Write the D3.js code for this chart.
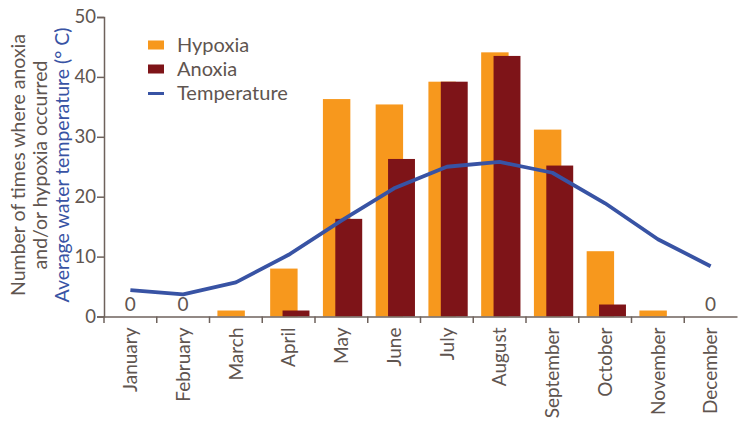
<!DOCTYPE html>
<html><head><meta charset="utf-8">
<script src="https://cdn.jsdelivr.net/npm/d3@7"></script>
<style>body{margin:0;background:#fff}svg{display:block}text{font-family:Lato,"Open Sans",sans-serif}</style>
</head><body>
<svg id="c" width="738" height="421"></svg>
<script>
const months = ["January","February","March","April","May","June","July","August","September","October","November","December"];
const hypoxia = [0,0,1,8,36.3,35.4,39.2,44.1,31.2,10.9,1,0];
const anoxia = [0,0,0,1,16.3,26.3,39.2,43.5,25.2,2,0,0];
const temperature = [4.4,3.7,5.7,10.3,16,21.4,25,25.8,24,18.9,12.9,8.4];
const yTicks = [0,10,20,30,40,50];
const zeroLabels = ["January","February","December"];

const svg = d3.select("#c");
const textCol = "#5f5550", axisCol = "#6e625c";
const orange = "#f7981d", red = "#7e1418", blue = "#3853a4";

const x = d3.scaleBand().domain(months).range([104, 737]);
const y = d3.scaleLinear().domain([0,50]).range([316.5, 17]);
const bw = x.bandwidth();

// bars
svg.append("g").selectAll("rect").data(months).join("rect")
  .attr("x", d => x(d) + bw*0.15).attr("width", bw*0.52)
  .attr("y", (d,i) => y(hypoxia[i])).attr("height", (d,i) => y(0) - y(hypoxia[i]))
  .attr("fill", orange);
svg.append("g").selectAll("rect").data(months).join("rect")
  .attr("x", d => x(d) + bw*0.385).attr("width", bw*0.51)
  .attr("y", (d,i) => y(anoxia[i])).attr("height", (d,i) => y(0) - y(anoxia[i]))
  .attr("fill", red);

// line
const line = d3.line().x((d,i) => x(months[i]) + bw/2).y(d => y(d));
svg.append("path").datum(temperature).attr("d", line)
  .attr("fill","none").attr("stroke", blue).attr("stroke-width", 3.8).attr("stroke-linejoin","round");

// zero labels
svg.append("g").selectAll("text").data(zeroLabels).join("text")
  .attr("x", d => x(d) + bw/2).attr("y", 311).attr("text-anchor","middle")
  .attr("font-size", 19).attr("fill", textCol).text("0");

// y axis
const ya = svg.append("g").attr("transform","translate(104,0)")
  .call(d3.axisLeft(y).tickValues(yTicks).tickSize(7).tickPadding(1));
ya.select(".domain").attr("stroke", axisCol).attr("stroke-width",1.5);
ya.selectAll(".tick line").attr("stroke", axisCol).attr("stroke-width",1.5);
ya.selectAll(".tick text").attr("font-size", 18.5).attr("fill", textCol).attr("font-family","Lato,sans-serif");

// x axis
const xa = svg.append("g").attr("transform","translate(0,316.5)")
  .call(d3.axisBottom(x).tickSize(0));
xa.select(".domain").attr("stroke", axisCol).attr("stroke-width",1.5);
xa.selectAll(".tick text").attr("font-size", 19).attr("fill", textCol).attr("font-family","Lato,sans-serif")
  .attr("transform","rotate(-90)").attr("text-anchor","end").attr("dy","0.35em").attr("x",-11).attr("y",0);
// boundary ticks
svg.append("g").selectAll("line").data(d3.range(12)).join("line")
  .attr("x1", i => x(months[i])).attr("x2", i => x(months[i]))
  .attr("y1", 316.5).attr("y2", 323).attr("stroke", axisCol).attr("stroke-width",1.5);

// y titles
const tg = svg.append("g").attr("transform","translate(0,165) rotate(-90)");
tg.append("text").attr("x",0).attr("y",25).attr("text-anchor","middle").attr("font-size",19.5).attr("fill",textCol).text("Number of times where anoxia");
tg.append("text").attr("x",0).attr("y",47).attr("text-anchor","middle").attr("font-size",19.5).attr("fill",textCol).text("and/or hypoxia occurred");
tg.append("text").attr("x",0).attr("y",69).attr("text-anchor","middle").attr("font-size",19.5).attr("fill",blue).text("Average water temperature (° C)");

// legend
const lg = svg.append("g");
const items = [{t:"Hypoxia",c:orange,k:"r"},{t:"Anoxia",c:red,k:"r"},{t:"Temperature",c:blue,k:"l"}];
items.forEach((it,i) => {
  const cy = 45 + i*24;
  if (it.k === "r") lg.append("rect").attr("x",148).attr("y",cy-4.5).attr("width",16).attr("height",9).attr("fill",it.c);
  else lg.append("line").attr("x1",148).attr("x2",164).attr("y1",cy+0.5).attr("y2",cy+0.5).attr("stroke",it.c).attr("stroke-width",3);
  lg.append("text").attr("x",177).attr("y",cy).attr("dy","0.35em").attr("font-size",20).attr("fill",textCol).text(it.t);
});
</script>
</body></html>
